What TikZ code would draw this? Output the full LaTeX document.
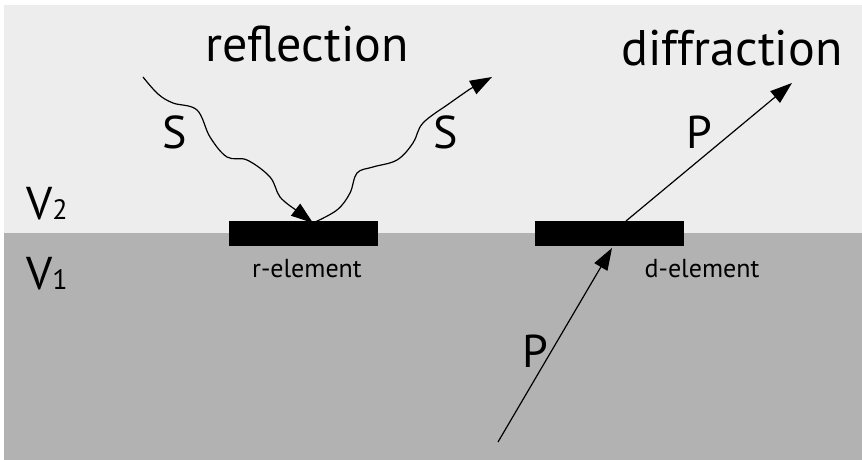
\documentclass[tikz,border=0pt]{standalone}
\usepackage{fontspec}
\setmainfont{PT Sans}
\usetikzlibrary{arrows.meta}
\definecolor{upper}{HTML}{EDEDED}
\definecolor{lower}{HTML}{B2B2B2}
\newcommand{\subdigit}[1]{{\fontsize{28}{28}\selectfont #1}}
\tikzset{
  big/.style={font=\fontsize{50}{54}\selectfont, inner sep=0pt, anchor=base},
  lbl/.style={font=\fontsize{46}{50}\selectfont, inner sep=0pt, anchor=base},
  small/.style={font=\fontsize{26}{30}\selectfont, inner sep=0pt, anchor=base},
  elem/.style={fill=black, draw=none, minimum width=149pt, minimum height=25pt, inner sep=0pt},
  ray/.style={line width=1.2pt, -{Triangle[length=22pt,width=15pt]}},
}
\begin{document}
\begin{tikzpicture}[x=1pt,y=-1pt]
\useasboundingbox (0,0) rectangle (862,460);
\fill[upper] (4,5) rectangle (862,233);
\fill[lower] (4,233) rectangle (862,460);
\node[elem] (relem) at (303.5,233.5) {};
\node[elem] (delem) at (609.5,233.5) {};
\node[big] (refl) at (307,62) {reflection};
\node[big] (diff) at (732,66) {diffraction};
\node[lbl] (s1) at (175,148) {S};
\node[lbl] (s2) at (446,148) {S};
\node[lbl] (p1) at (699,148) {P};
\node[lbl] (p2) at (535,367) {P};
\node[lbl] (v2) at (47,219) {V\subdigit{2}};
\node[lbl] (v1) at (47,289) {V\subdigit{1}};
\node[small] (rl) at (307,277) {r-element};
\node[small] (dl) at (702,277) {d-element};
\coordinate (sa) at (143,77);
\coordinate (sb) at (313,223);
\coordinate (sc) at (492,77);
\coordinate (pa) at (498,442);
\coordinate (pb) at (612,248);
\coordinate (pc) at (626,221);
\coordinate (pd) at (792,83);
\draw[line width=1.2pt] plot[smooth, tension=0.6] coordinates {(sa) (158,94) (173,103) (197,110) (210,137) (227,157) (247,160) (270,177) (280,197) (296,210)};
\draw[ray] (296,210) -- (sb);
\draw[line width=1.2pt] plot[smooth, tension=0.6] coordinates {(sb) (337,210) (350,193) (357,173) (373,167) (397,160) (413,143) (423,123) (450,103) (470,89)};
\draw[ray] (470,89) -- (sc);
\draw[ray] (pa) -- (pb);
\draw[ray] (pc) -- (pd);
\end{tikzpicture}
\end{document}
